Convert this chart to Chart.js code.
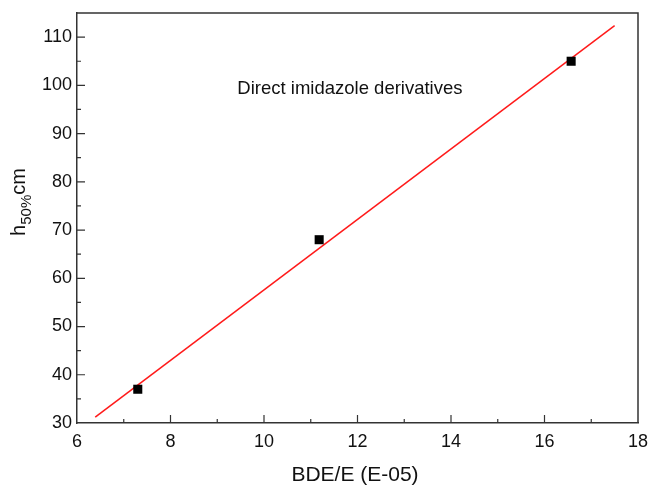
<!DOCTYPE html>
<html>
<head>
<meta charset="utf-8">
<script src="https://cdn.jsdelivr.net/npm/chart.js@4"></script>
<style>
  html, body { margin: 0; padding: 0; background: #fff; }
  #wrap { width: 651px; height: 485px; position: relative; }
</style>
</head>
<body>
<div id="wrap"><canvas id="chart"></canvas></div>
<script>
// data
const bdeValues = [7.3, 11.18, 16.57];
const h50Values = [37, 68, 105];
// fitted line end points
const fitX = [6.39, 17.5];
const fitY = [31.2, 112.4];

const xMin = 6, xMax = 18, xStep = 2;
const yMin = 30, yMax = 115, yStep = 10;
const noteText = 'Direct imidazole derivatives';
const noteAt = { x: 9.43, y: 99.3 };

const FONT = '"Liberation Sans", Arial, sans-serif';
const AXIS = '#333';

// inward ticks, frame, titles, note
const framePlugin = {
    id: 'frame',
    afterDraw(chart) {
        const ctx = chart.ctx, a = chart.chartArea;
        const xs = chart.scales.x, ys = chart.scales.y;
        ctx.save();
        ctx.strokeStyle = AXIS; ctx.lineWidth = 1.5;
        ctx.beginPath();
        ctx.moveTo(a.left, a.top); ctx.lineTo(a.right, a.top); ctx.lineTo(a.right, a.bottom);
        ctx.stroke();

        ctx.lineWidth = 1.2;
        ctx.beginPath();
        for (let v = xMin + 1; v < xMax; v += 1) {
            const px = xs.getPixelForValue(v);
            const len = (v % 2 === 0) ? 8 : 4;
            ctx.moveTo(px, a.bottom); ctx.lineTo(px, a.bottom - len);
        }
        for (let v = yMin + 5; v < yMax; v += 5) {
            const py = ys.getPixelForValue(v);
            const len = (v % 10 === 0) ? 8 : 4;
            ctx.moveTo(a.left, py); ctx.lineTo(a.left + len, py);
        }
        ctx.stroke();

        // x title
        ctx.fillStyle = '#111';
        ctx.font = '21px ' + FONT;
        ctx.textAlign = 'center'; ctx.textBaseline = 'alphabetic';
        ctx.fillText('BDE/E (E-05)', 355, 481);

        // y title with subscript
        ctx.translate(25, 202);
        ctx.rotate(-Math.PI / 2);
        ctx.textAlign = 'left';
        const big = '20px ' + FONT, small = '15px ' + FONT;
        ctx.font = big; const wh = ctx.measureText('h').width;
        ctx.font = small; const ws = ctx.measureText('50%').width;
        ctx.font = big; const wc = ctx.measureText('cm').width;
        let x0 = -(wh + ws + wc) / 2;
        ctx.font = big; ctx.fillText('h', x0, 0); x0 += wh;
        ctx.font = small; ctx.fillText('50%', x0, 6); x0 += ws;
        ctx.font = big; ctx.fillText('cm', x0, 0);
        ctx.restore();

        // note
        ctx.save();
        ctx.fillStyle = '#111';
        ctx.font = '18.5px ' + FONT;
        ctx.textAlign = 'left'; ctx.textBaseline = 'middle';
        ctx.fillText(noteText, xs.getPixelForValue(noteAt.x), ys.getPixelForValue(noteAt.y));
        ctx.restore();
    }
};

new Chart(document.getElementById('chart'), {
    type: 'scatter',
    data: {
        datasets: [
            {
                label: 'fit',
                data: fitX.map((x, i) => ({ x: x, y: fitY[i] })),
                showLine: true,
                borderColor: '#ff1a1a',
                borderWidth: 1.5,
                pointRadius: 0,
                order: 2
            },
            {
                label: 'h50',
                data: bdeValues.map((x, i) => ({ x: x, y: h50Values[i] })),
                pointStyle: 'rect',
                pointRadius: 6.4,
                backgroundColor: '#000',
                borderColor: '#000',
                borderWidth: 0,
                order: 1
            }
        ]
    },
    options: {
        responsive: true,
        maintainAspectRatio: false,
        animation: false,
        layout: { padding: { left: 0, top: 13, right: 13, bottom: 0 } },
        plugins: { legend: { display: false }, tooltip: { enabled: false } },
        scales: {
            x: {
                type: 'linear', min: xMin, max: xMax,
                afterFit: s => { s.height = 62; s.paddingLeft = 0; s.paddingRight = 0; },
                grid: { drawOnChartArea: false, drawTicks: false },
                border: { color: AXIS, width: 1.5 },
                ticks: { stepSize: xStep, padding: 8, color: '#111', font: { family: FONT, size: 18 } }
            },
            y: {
                type: 'linear', min: yMin, max: yMax,
                afterFit: s => { s.width = 77; s.paddingTop = 0; s.paddingBottom = 0; },
                afterBuildTicks: s => { s.ticks = s.ticks.filter(t => t.value % yStep === 0); },
                grid: { drawOnChartArea: false, drawTicks: false },
                border: { color: AXIS, width: 1.5 },
                ticks: { stepSize: yStep, padding: 5, color: '#111', font: { family: FONT, size: 18 } }
            }
        }
    },
    plugins: [framePlugin]
});
</script>
</body>
</html>
